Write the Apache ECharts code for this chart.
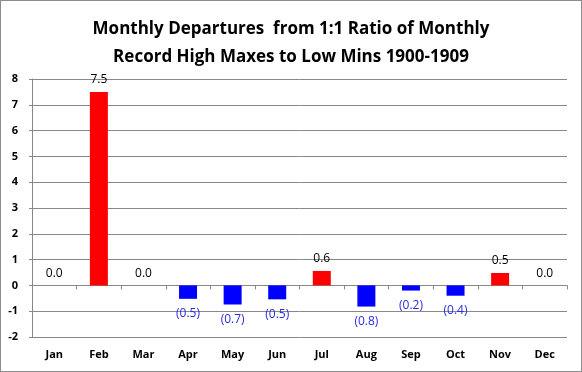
<!DOCTYPE html>
<html><head><meta charset="utf-8">
<script src="https://cdn.jsdelivr.net/npm/echarts@6/dist/echarts.min.js"></script>
<style>
html,body{margin:0;padding:0;background:#fff;}
#c{position:absolute;left:0;top:0;width:580px;height:370px;border:1px solid #8c8c8c;}
</style></head><body>
<div id="c"></div>
<script>
var titleLines = ["Monthly Departures  from 1:1 Ratio of Monthly", "Record High Maxes to Low Mins 1900-1909"];
var months = ["Jan","Feb","Mar","Apr","May","Jun","Jul","Aug","Sep","Oct","Nov","Dec"];
var departures = [0.0, 7.5, 0.0, -0.52, -0.74, -0.54, 0.56, -0.82, -0.2, -0.4, 0.48, 0.0];
var yTicks = [-2, -1, 0, 1, 2, 3, 4, 5, 6, 7, 8];

var FONT = "Open Sans";
function fmt(v){
  var s = Math.abs(v).toFixed(1);
  return v < 0 ? "(" + s + ")" : s;
}
var data = departures.map(function(v){
  var neg = v < 0;
  return {
    value: v,
    itemStyle: {color: neg ? "#0000ff" : "#ff0000"},
    label: {position: neg ? "bottom" : "top", color: neg ? "#2a2ae0" : "#000", distance: neg ? 9 : 6}
  };
});

var chart = echarts.init(document.getElementById("c"), null, {renderer: "canvas"});
chart.setOption({
  animation: false,
  title: {
    text: titleLines.join("\n"),
    left: "center", top: 9,
    textStyle: {fontFamily: FONT, fontWeight: "bold", fontSize: 17, lineHeight: 28, color: "#000"}
  },
  grid: {left: 31, right: 14, top: 78, bottom: 34, containLabel: false},
  xAxis: [{
    type: "category", data: months, position: "bottom",
    axisLine: {onZero: true, lineStyle: {color: "#888", width: 1}},
    axisTick: {show: true, alignWithLabel: false, length: 4, lineStyle: {color: "#888"}},
    axisLabel: {show: false}
  }, {
    type: "category", data: months, position: "bottom",
    axisLine: {show: false, onZero: false},
    axisTick: {show: false},
    axisLabel: {show: true, margin: 12, fontFamily: FONT, fontWeight: "bold", fontSize: 11, color: "#000"}
  }],
  yAxis: {
    type: "value", min: yTicks[0], max: yTicks[yTicks.length - 1], interval: 1,
    axisLine: {show: true, lineStyle: {color: "#888"}},
    axisTick: {show: true, length: 3, lineStyle: {color: "#888"}},
    splitLine: {show: true, lineStyle: {color: "#888", width: 1}},
    axisLabel: {margin: 14, fontFamily: FONT, fontWeight: "bold", fontSize: 11, color: "#000"}
  },
  series: [{
    type: "bar", xAxisIndex: 0, data: data, barWidth: 18,
    label: {show: true, fontFamily: FONT, fontSize: 12,
      formatter: function(p){ return fmt(p.value); }}
  }]
});
</script>
</body></html>
